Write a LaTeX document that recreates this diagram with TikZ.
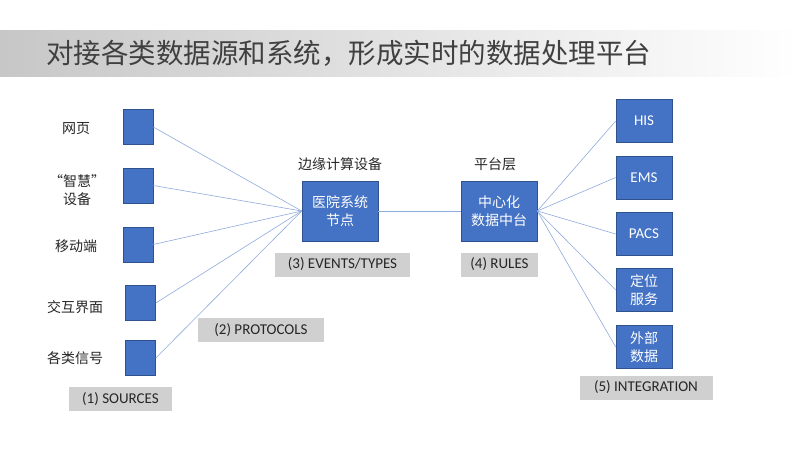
\documentclass[tikz,border=0pt]{standalone}
\usepackage{fontspec}
\setmainfont{Carlito}
\newfontfamily\cjk{Noto Sans CJK SC}
\usepackage{tikz}

\definecolor{boxblue}{RGB}{68,114,196}
\definecolor{boxedge}{RGB}{47,82,143}
\definecolor{linkblue}{RGB}{143,170,220}
\definecolor{tagfill}{RGB}{208,208,208}
\definecolor{inkgray}{RGB}{64,64,64}

\begin{document}
\begin{tikzpicture}[x=1pt,y=1pt,yscale=-1,xscale=1,
  srcbox/.style={draw=boxedge,line width=0.6pt,fill=boxblue,minimum width=30,minimum height=35,inner sep=0pt},
  hubbox/.style={draw=boxedge,line width=0.6pt,fill=boxblue,minimum width=76,minimum height=60,inner sep=0pt,
    text=white,align=center,font=\cjk\fontsize{14}{18}\selectfont},
  sysbox/.style={draw=boxedge,line width=0.6pt,fill=boxblue,minimum width=56,minimum height=43,inner sep=0pt,
    text=white,align=center,font=\fontsize{15}{18}\selectfont},
  tag/.style={fill=tagfill,minimum height=24,inner sep=0pt,text=black!85,font=\fontsize{15}{17}\selectfont},
  lbl/.style={inner sep=0.75pt,text=black!85,align=center,font=\cjk\fontsize{14}{18}\selectfont},
  link/.style={draw=linkblue,line width=0.6pt}]
\useasboundingbox (0,0) rectangle (800,450);

%Title banner
\fill [left color=black!22,right color=white] (0,30) rectangle (800,76);
\node (title) [anchor=west,inner sep=0pt,text=inkgray,font=\cjk\fontsize{27.5}{30}\selectfont] at (46,53) {对接各类数据源和系统，形成实时的数据处理平台};

%Sources
\node (s1) [srcbox] at (138,127) {};
\node (s2) [srcbox] at (138,185.5) {};
\node (s3) [srcbox] at (138,244.5) {};
\node (s4) [srcbox] at (140.5,303) {};
\node (s5) [srcbox] at (140.5,358) {};

%Hubs
\node (edge) [hubbox] at (340,211) {医院系统\\节点};
\node (hub) [hubbox] at (499,211) {中心化\\数据中台};

%Systems
\node (his) [sysbox] at (644,121) {HIS};
\node (ems) [sysbox] at (644,177.5) {EMS};
\node (pacs) [sysbox] at (644,234) {PACS};
\node (loc) [sysbox,font=\cjk\fontsize{14}{18}\selectfont] at (644,290) {定位\\服务};
\node (ext) [sysbox,font=\cjk\fontsize{14}{18}\selectfont] at (644,347) {外部\\数据};

%Straight Lines
\foreach \s in {s1,s2,s3,s4,s5} \draw [link] (\s.east) -- (edge.west);
\draw [link] (edge.east) -- (hub.west);
\foreach \t in {his,ems,pacs,loc,ext} \draw [link] (hub.east) -- (\t.west);

% Text Node
\node (l1) [lbl] at (76,129) {网页};
\node (l2) [lbl] at (77,190) {“智慧”\\设备};
\node (l3) [lbl] at (76,246) {移动端};
\node (l4) [lbl] at (75,307) {交互界面};
\node (l5) [lbl] at (75,358) {各类信号};
\node (ledge) [lbl] at (340,164) {边缘计算设备};
\node (lhub) [lbl] at (495,164) {平台层};

% Tags
\node (t1) [tag,minimum width=103] at (120.5,399) {(1) SOURCES};
\node (t2) [tag,minimum width=126] at (261,330) {(2) PROTOCOLS};
\node (t3) [tag,minimum width=135] at (342.5,264.5) {(3) EVENTS/TYPES};
\node (t4) [tag,minimum width=77] at (499.5,264.5) {(4) RULES};
\node (t5) [tag,minimum width=133] at (646,387.5) {(5) INTEGRATION};

\end{tikzpicture}
\end{document}
